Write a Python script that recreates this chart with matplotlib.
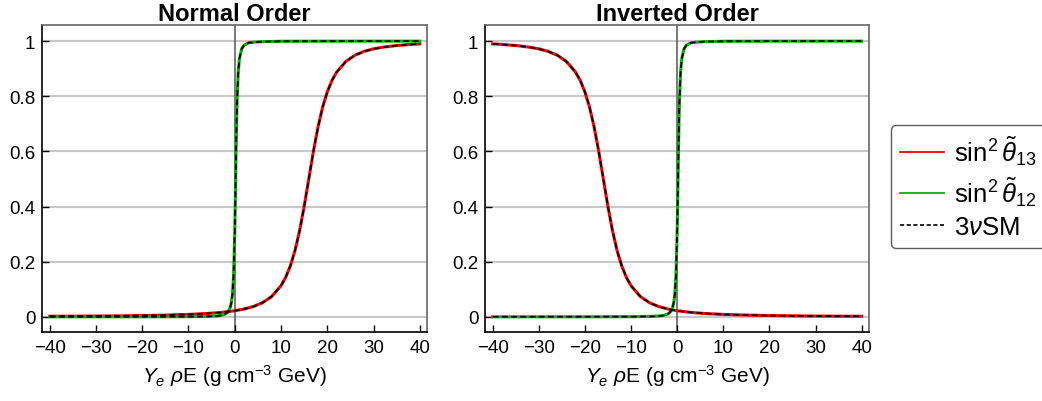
import matplotlib
matplotlib.use("Agg")
import matplotlib.pyplot as plt
from matplotlib.lines import Line2D

plt.rcParams["font.family"] = ["Liberation Sans", "DejaVu Sans"]
plt.rcParams["mathtext.fontset"] = "custom"
plt.rcParams["mathtext.rm"] = "Liberation Sans"
plt.rcParams["mathtext.it"] = "Liberation Sans:italic"
plt.rcParams["mathtext.bf"] = "Liberation Sans:bold"

# sin^2 theta13 in matter, normal order
x_13_no = [-40, -35, -30, -25, -20, -15, -10, -6, -3, 0, 2, 4, 6, 8, 10, 11, 12,
           13, 14, 15, 16, 17, 18, 19, 20, 21, 22, 24, 26, 28, 30, 32, 35, 38, 40]
y_13_no = [0.002, 0.0023, 0.0028, 0.0035, 0.0046, 0.0062, 0.0087, 0.012, 0.0159,
           0.022, 0.0282, 0.0372, 0.0512, 0.0739, 0.113, 0.143, 0.184, 0.239,
           0.311, 0.400, 0.500, 0.600, 0.689, 0.761, 0.816, 0.857, 0.887, 0.926,
           0.949, 0.963, 0.972, 0.978, 0.984, 0.988, 0.990]

# sin^2 theta13 in matter, inverted order
x_13_io = [-40, -38, -35, -32, -30, -28, -26, -24, -22, -21, -20, -19, -18, -17,
           -16, -15, -14, -13, -12, -11, -10, -8, -6, -4, -2, 0, 3, 6, 10, 15,
           20, 25, 30, 35, 40]
y_13_io = [0.990, 0.988, 0.984, 0.978, 0.972, 0.963, 0.949, 0.926, 0.887, 0.857,
           0.816, 0.761, 0.689, 0.600, 0.500, 0.400, 0.311, 0.239, 0.184, 0.143,
           0.113, 0.0739, 0.0512, 0.0372, 0.0282, 0.022, 0.0159, 0.012, 0.0087,
           0.0062, 0.0046, 0.0035, 0.0028, 0.0023, 0.002]

# sin^2 theta12 in matter (same in both orderings)
x_12 = [-40, -30, -20, -10, -6, -4, -3, -2, -1.5, -1, -0.75, -0.5, -0.25, 0, 0.1,
        0.19, 0.3, 0.4, 0.5, 0.75, 1, 1.5, 2, 3, 4, 6, 10, 20, 30, 40]
y_12 = [0.0, 0.0001, 0.0001, 0.0005, 0.0013, 0.0029, 0.005, 0.0103, 0.0171, 0.033,
        0.050, 0.082, 0.152, 0.307, 0.403, 0.500, 0.618, 0.710, 0.782, 0.888,
        0.936, 0.972, 0.985, 0.994, 0.996, 0.998, 0.9995, 0.9999, 1.0, 1.0]

titles = ["Normal Order", "Inverted Order"]
x_ticks = [-40, -30, -20, -10, 0, 10, 20, 30, 40]
y_ticks = [0, 0.2, 0.4, 0.6, 0.8, 1]
y_ticklabels = ["0", "0.2", "0.4", "0.6", "0.8", "1"]

red = "#ff0000"
green = "#00b400"

fig = plt.figure(figsize=(10.42, 4.02), dpi=100)
ax1 = fig.add_axes([0.0406, 0.171, 0.3694, 0.764])
ax2 = fig.add_axes([0.4657, 0.171, 0.3683, 0.764])

panels = [(ax1, x_13_no, y_13_no), (ax2, x_13_io, y_13_io)]
for ax, xr, yr in panels:
    for y in y_ticks:
        ax.axhline(y, color="#c8c8c8", lw=1.5, zorder=0)
    ax.axvline(0, color="#555555", lw=1.1, zorder=1)

    ax.plot(xr, yr, color=red, lw=2.2, zorder=2)
    ax.plot(x_12, y_12, color=green, lw=2.2, zorder=3)
    ax.plot(xr, yr, color="black", lw=1.3, dashes=(3.3, 1.8), zorder=4)
    ax.plot(x_12, y_12, color="black", lw=1.3, dashes=(3.3, 1.8), zorder=5)

    ax.set_xlim(-41.6, 41.6)
    ax.set_ylim(-0.056, 1.058)
    ax.set_xticks(x_ticks)
    ax.set_xticklabels([str(t).replace("-", "\u2212") for t in x_ticks])
    ax.set_yticks(y_ticks)
    ax.set_yticklabels(y_ticklabels)
    ax.tick_params(direction="in", length=5, width=1, labelsize=13.5, pad=5,
                   top=False, right=False)
    ax.spines["left"].set_color("black")
    ax.spines["bottom"].set_color("black")
    ax.spines["top"].set_color("#666666")
    ax.spines["right"].set_color("#666666")
    for s in ax.spines.values():
        s.set_linewidth(1.2)
    ax.set_xlabel(r"$Y_e\ \rho$E (g cm$^{-3}$ GeV)", fontsize=15, labelpad=4)

ax1.set_title(titles[0], fontsize=17, fontweight="bold", pad=2)
ax2.set_title(titles[1], fontsize=17, fontweight="bold", pad=2)

handles = [
    Line2D([], [], color=red, lw=1.3),
    Line2D([], [], color=green, lw=1.3),
    Line2D([], [], color="black", lw=1.2, dashes=(2.5, 1.5)),
]
labels = [r"$\mathrm{sin}^2\,\tilde{\theta}_{13}$",
          r"$\mathrm{sin}^2\,\tilde{\theta}_{12}$",
          r"3$\nu$SM"]
leg = fig.legend(handles, labels, loc="center left", bbox_to_anchor=(0.855, 0.534),
                 fontsize=18.5, frameon=True, fancybox=True, handlelength=1.7,
                 handletextpad=0.4, borderpad=0.35, labelspacing=0.28,
                 borderaxespad=0.0, edgecolor="#333333")
leg.get_frame().set_linewidth(1.0)

fig.savefig("out.png", dpi=100)
